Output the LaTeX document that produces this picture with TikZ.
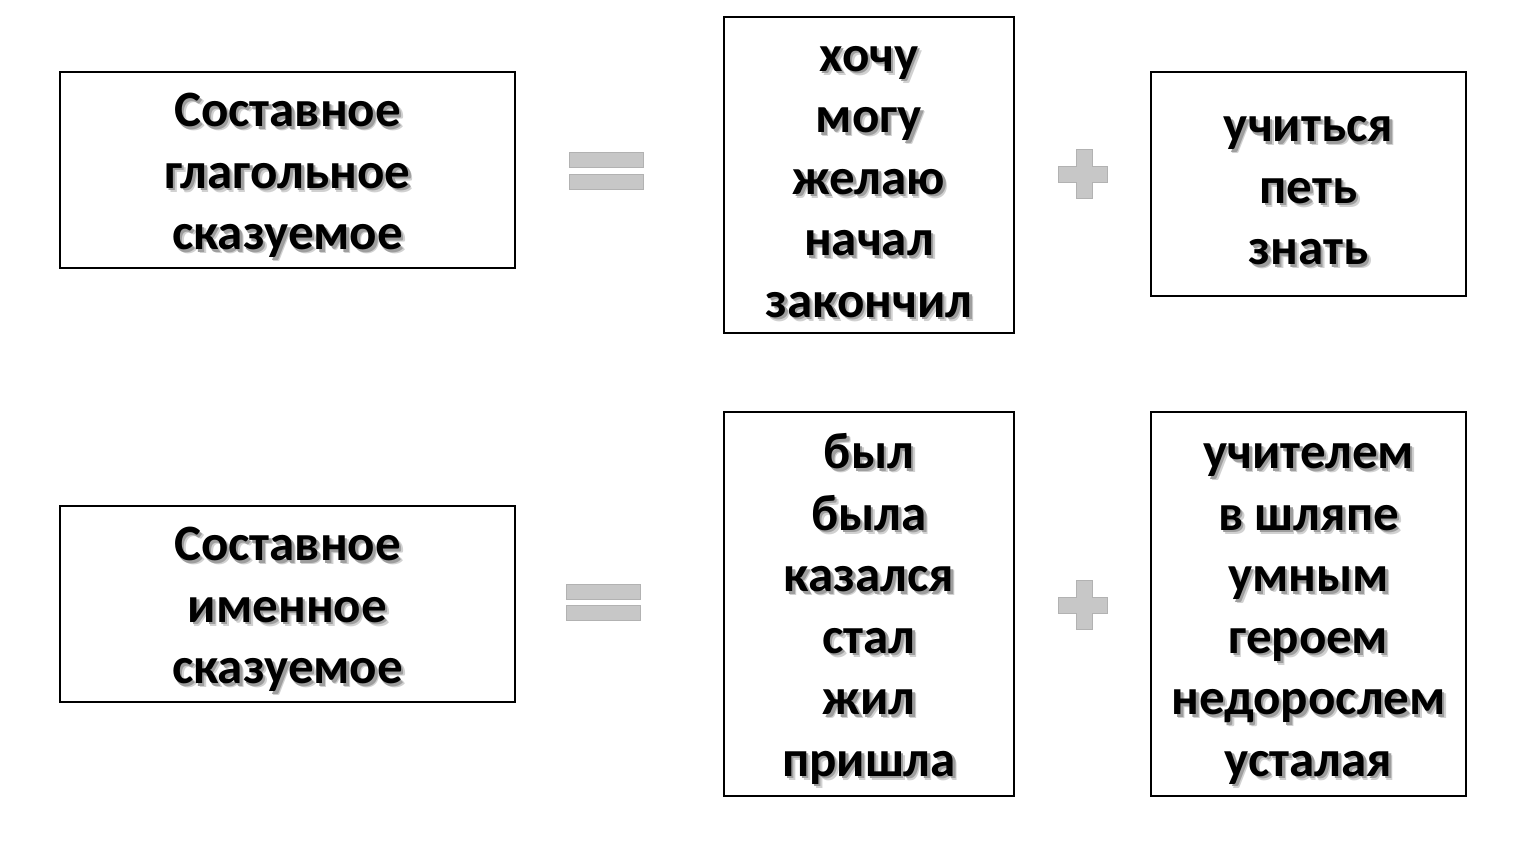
\documentclass[tikz,border=0pt]{standalone}
\usepackage{fontspec}
\setmainfont{Carlito}
\newcommand\mystack[1]{\begin{tabular}{@{}c@{}}#1\end{tabular}}
\newcommand\shtxt[1]{\leavevmode
  \rlap{\kern4pt\raisebox{-4pt}[0pt][0pt]{\color{black!18}\mystack{#1}}}%
  \rlap{\kern2.5pt\raisebox{-2.5pt}[0pt][0pt]{\color{black!38}\mystack{#1}}}%
  \mystack{#1}}
\begin{document}
\begin{tikzpicture}[x=1pt,y=-1pt,
  box/.style={draw=black,line width=1.6pt,fill=white},
  txt/.style={font=\fontsize{51}{61.5}\selectfont\bfseries,inner sep=0pt,text=black},
  sign/.style={fill=black!22,draw=black!30,line width=0.6pt}]
\useasboundingbox (0,0) rectangle (1533,864);
% boxes
\node[box,minimum width=455pt,minimum height=196pt] (b1) at (287.5,170) {};
\node[box,minimum width=290pt,minimum height=316pt] (b2) at (869,175) {};
\node[box,minimum width=315pt,minimum height=224pt] (b3) at (1308.5,184) {};
\node[box,minimum width=455pt,minimum height=196pt] (b4) at (287.5,604) {};
\node[box,minimum width=290pt,minimum height=384pt] (b5) at (869,604) {};
\node[box,minimum width=315pt,minimum height=384pt] (b6) at (1308.5,604) {};
% texts with shadow
\node[txt] (t1) at (287.5,176) {\shtxt{Составное\\глагольное\\сказуемое}};
\node[txt] (t2) at (869,182) {\shtxt{хочу\\могу\\желаю\\начал\\закончил}};
\node[txt] (t3) at (1308.5,191) {\shtxt{учиться\\петь\\знать}};
\node[txt] (t4) at (287.5,610) {\shtxt{Составное\\именное\\сказуемое}};
\node[txt] (t5) at (869,610) {\shtxt{был\\была\\казался\\стал\\жил\\пришла}};
\node[txt] (t6) at (1308.5,610) {\shtxt{учителем\\в шляпе\\умным\\героем\\недорослем\\усталая}};
% equals signs
\path[sign] (569,152) rectangle (643,167);
\path[sign] (569,174) rectangle (643,189);
\path[sign] (566,584) rectangle (640,599);
\path[sign] (566,605) rectangle (640,620);
% plus signs
\path[sign] (1076,149) -- (1092,149) -- (1092,166) -- (1107,166) -- (1107,182) -- (1092,182) -- (1092,198) -- (1076,198) -- (1076,182) -- (1058,182) -- (1058,166) -- (1076,166) -- cycle;
\path[sign] (1076,580) -- (1092,580) -- (1092,597) -- (1107,597) -- (1107,613) -- (1092,613) -- (1092,629) -- (1076,629) -- (1076,613) -- (1058,613) -- (1058,597) -- (1076,597) -- cycle;
\end{tikzpicture}
\end{document}
